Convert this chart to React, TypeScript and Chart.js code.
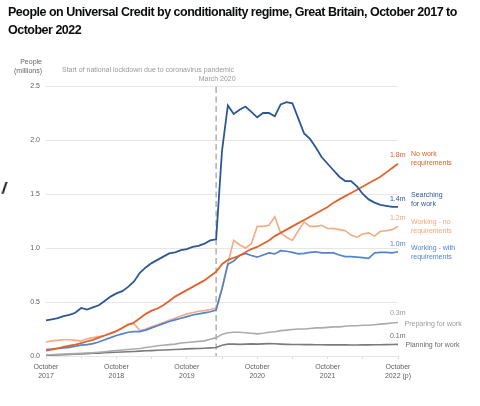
import React, { useEffect, useRef } from "react";
import { Chart, registerables } from "chart.js";

Chart.register(...registerables);

const FONT = '"Liberation Sans", Arial, Helvetica, sans-serif';

const months = [
  "Oct 2017", "Nov 2017", "Dec 2017", "Jan 2018", "Feb 2018", "Mar 2018", "Apr 2018", "May 2018", "Jun 2018", "Jul 2018", "Aug 2018", "Sep 2018",
  "Oct 2018", "Nov 2018", "Dec 2018", "Jan 2019", "Feb 2019", "Mar 2019", "Apr 2019", "May 2019", "Jun 2019", "Jul 2019", "Aug 2019", "Sep 2019",
  "Oct 2019", "Nov 2019", "Dec 2019", "Jan 2020", "Feb 2020", "Mar 2020", "Apr 2020", "May 2020", "Jun 2020", "Jul 2020", "Aug 2020", "Sep 2020",
  "Oct 2020", "Nov 2020", "Dec 2020", "Jan 2021", "Feb 2021", "Mar 2021", "Apr 2021", "May 2021", "Jun 2021", "Jul 2021", "Aug 2021", "Sep 2021",
  "Oct 2021", "Nov 2021", "Dec 2021", "Jan 2022", "Feb 2022", "Mar 2022", "Apr 2022", "May 2022", "Jun 2022", "Jul 2022", "Aug 2022", "Sep 2022",
  "Oct 2022",
];

// x-axis tick labels (shown at each October)
const tickLabels: string[][] = [
  ["October", "2017"],
  ["October", "2018"],
  ["October", "2019"],
  ["October", "2020"],
  ["October", "2021"],
  ["October", "2022 (p)"],
];

const yTicks = [0, 0.5, 1.0, 1.5, 2.0, 2.5];

const searching = [
  0.33, 0.34, 0.35, 0.37, 0.38, 0.40, 0.445, 0.43, 0.45, 0.47, 0.51, 0.55,
  0.58, 0.60, 0.64, 0.69, 0.77, 0.82, 0.86, 0.89, 0.92, 0.95, 0.96, 0.98,
  0.99, 1.01, 1.02, 1.04, 1.07, 1.08, 1.90, 2.32, 2.24, 2.28, 2.31, 2.26,
  2.21, 2.25, 2.25, 2.22, 2.33, 2.35, 2.34, 2.20, 2.06, 2.01, 1.93, 1.84,
  1.78, 1.72, 1.66, 1.62, 1.62, 1.57, 1.50, 1.45, 1.42, 1.40, 1.39, 1.38,
  1.38,
];

const noWork = [
  0.05, 0.06, 0.07, 0.085, 0.095, 0.105, 0.12, 0.135, 0.15, 0.17, 0.19, 0.21,
  0.23, 0.26, 0.29, 0.31, 0.35, 0.39, 0.42, 0.44, 0.47, 0.51, 0.55, 0.58,
  0.61, 0.64, 0.67, 0.70, 0.74, 0.78, 0.85, 0.89, 0.91, 0.93, 0.96, 0.99,
  1.01, 1.04, 1.07, 1.11, 1.14, 1.17, 1.20, 1.23, 1.26, 1.29, 1.32, 1.35,
  1.38, 1.42, 1.45, 1.48, 1.51, 1.54, 1.57, 1.60, 1.63, 1.66, 1.70, 1.74,
  1.78,
];

const workingNo = [
  0.13, 0.14, 0.145, 0.15, 0.15, 0.145, 0.14, 0.16, 0.17, 0.18, 0.19, 0.21,
  0.23, 0.26, 0.29, 0.30, 0.235, 0.25, 0.27, 0.29, 0.31, 0.33, 0.35, 0.37,
  0.39, 0.40, 0.415, 0.42, 0.43, 0.445, 0.63, 0.86, 1.07, 1.03, 1.00, 1.04,
  1.20, 1.20, 1.21, 1.29, 1.14, 1.10, 1.07, 1.16, 1.24, 1.20, 1.20, 1.21,
  1.18, 1.18, 1.17, 1.16, 1.12, 1.10, 1.13, 1.14, 1.11, 1.155, 1.16, 1.17,
  1.20,
];

const workingWith = [
  0.06, 0.065, 0.07, 0.075, 0.08, 0.09, 0.10, 0.105, 0.115, 0.13, 0.15, 0.17,
  0.19, 0.205, 0.22, 0.225, 0.225, 0.24, 0.26, 0.28, 0.30, 0.32, 0.335, 0.35,
  0.365, 0.38, 0.39, 0.40, 0.41, 0.425, 0.62, 0.85, 0.88, 0.93, 0.95, 0.93,
  0.915, 0.935, 0.955, 0.945, 0.975, 0.97, 0.96, 0.945, 0.95, 0.96, 0.965, 0.955,
  0.955, 0.955, 0.935, 0.92, 0.92, 0.915, 0.91, 0.905, 0.955, 0.96, 0.96, 0.955,
  0.965,
];

const preparing = [
  0.01, 0.012, 0.015, 0.018, 0.02, 0.022, 0.025, 0.028, 0.03, 0.035, 0.04, 0.045,
  0.05, 0.055, 0.06, 0.065, 0.07, 0.078, 0.085, 0.095, 0.10, 0.105, 0.11, 0.12,
  0.125, 0.13, 0.135, 0.14, 0.155, 0.17, 0.20, 0.215, 0.22, 0.22, 0.215, 0.21,
  0.205, 0.21, 0.22, 0.225, 0.235, 0.24, 0.245, 0.25, 0.25, 0.255, 0.26, 0.26,
  0.265, 0.27, 0.27, 0.275, 0.28, 0.28, 0.285, 0.285, 0.29, 0.295, 0.30, 0.305,
  0.31,
];

const planning = [
  0.005, 0.007, 0.01, 0.012, 0.015, 0.017, 0.02, 0.022, 0.025, 0.027, 0.03, 0.032,
  0.035, 0.037, 0.04, 0.042, 0.045, 0.048, 0.05, 0.053, 0.056, 0.058, 0.06, 0.063,
  0.066, 0.068, 0.07, 0.072, 0.075, 0.078, 0.10, 0.11, 0.11, 0.108, 0.11, 0.112,
  0.11, 0.112, 0.115, 0.113, 0.11, 0.108, 0.107, 0.106, 0.105, 0.105, 0.104, 0.104,
  0.103, 0.103, 0.103, 0.103, 0.102, 0.102, 0.103, 0.103, 0.104, 0.104, 0.105, 0.106,
  0.108,
];

const endValueLabels = ["1.4m", "1.8m", "1.0m", "1.2m", "0.3m", "0.1m"];
const seriesNames = [
  ["Searching", "for work"],
  ["No work", "requirements"],
  ["Working - with", "requirements"],
  ["Working - no", "requirements"],
  ["Preparing for work"],
  ["Planning for work"],
];
const lockdownMonth = "Mar 2020";
const lockdownText = ["Start of national lockdown due to coronavirus pandemic", "March 2020"];
const yAxisTitle = ["People", "(millions)"];

// styling (kept separate from data)
const COLORS = ["#2c5797", "#e2622b", "#5283d0", "#f2ab82", "#ababab", "#7b7b7b"];
const TEXT_COLORS = ["#2c5797", "#e2622b", "#5283d0", "#f0a67c", "#9a9a9a", "#6a6a6a"];
const WIDTHS = [1.8, 1.8, 1.7, 1.6, 1.6, 1.6];
// offsets relative to each series' end point
const LABEL_OFFSETS = [
  { vdy: -7.7, ndx: 13, ndy: -12 },
  { vdy: -9, ndx: 13, ndy: -9.5 },
  { vdy: -7.5, ndx: 13, ndy: -4.1 },
  { vdy: -8.7, ndx: 13, ndy: -4.7 },
  { vdy: -9.8, ndx: 6.5, ndy: 1.8 },
  { vdy: -8.1, ndx: 7.5, ndy: 0.9 },
];

export default function App() {
  const ref = useRef<HTMLCanvasElement>(null);

  useEffect(() => {
    const seriesData = [searching, noWork, workingWith, workingNo, preparing, planning];

    const annotPlugin = {
      id: "annot",
      beforeDatasetsDraw(chart: any) {
        const { ctx, scales, chartArea } = chart;
        const px = scales.x.getPixelForValue(months.indexOf(lockdownMonth));
        ctx.save();
        ctx.strokeStyle = "#b0b0b0";
        ctx.lineWidth = 1.5;
        ctx.setLineDash([6, 3.5]);
        ctx.beginPath();
        ctx.moveTo(px, chartArea.top + 1);
        ctx.lineTo(px, chartArea.bottom);
        ctx.stroke();
        ctx.restore();
      },
      afterDraw(chart: any) {
        const { ctx, scales, chartArea } = chart;
        const x = scales.x;
        const y = scales.y;
        ctx.save();
        ctx.font = `7px ${FONT}`;
        ctx.textBaseline = "middle";

        // y-axis title
        ctx.fillStyle = "#666";
        ctx.textAlign = "right";
        ctx.fillText(yAxisTitle[0], chartArea.left - 4, 62);
        ctx.fillText(yAxisTitle[1], chartArea.left - 4, 71);

        // lockdown annotation
        const px = x.getPixelForValue(months.indexOf(lockdownMonth));
        ctx.fillStyle = "#999";
        ctx.textAlign = "left";
        ctx.fillText(lockdownText[0], 62, 70);
        ctx.textAlign = "right";
        ctx.fillText(lockdownText[1], px + 19.5, 79);

        // end labels
        const lastIdx = months.length - 1;
        const xe = x.getPixelForValue(lastIdx);
        seriesData.forEach((d, i) => {
          const ye = y.getPixelForValue(d[lastIdx]);
          const o = LABEL_OFFSETS[i];
          ctx.fillStyle = TEXT_COLORS[i];
          ctx.textAlign = "right";
          ctx.fillText(endValueLabels[i], xe + 7.5, ye + o.vdy);
          ctx.textAlign = "left";
          seriesNames[i].forEach((line, k) => {
            ctx.fillText(line, xe + o.ndx, ye + o.ndy + k * 9.2);
          });
        });
        ctx.restore();
      },
    };

    const chart = new Chart(ref.current as HTMLCanvasElement, {
      type: "line",
      data: {
        labels: months,
        datasets: seriesData.map((d, i) => ({
          data: d,
          borderColor: COLORS[i],
          backgroundColor: COLORS[i],
          borderWidth: WIDTHS[i],
          pointRadius: 0,
          tension: 0,
          fill: false,
        })),
      },
      options: {
        responsive: false,
        animation: false,
        events: [],
        layout: { padding: { left: 0, right: 82, top: 86, bottom: 0 } },
        plugins: {
          legend: { display: false },
          tooltip: { enabled: false },
          title: { display: false },
        },
        scales: {
          x: {
            type: "category",
            offset: false,
            border: { display: false },
            grid: {
              drawOnChartArea: false,
              drawTicks: true,
              tickLength: 3,
              color: "#dcdcdc",
              lineWidth: 1,
            },
            ticks: {
              autoSkip: false,
              maxRotation: 0,
              minRotation: 0,
              padding: 3,
              color: "#5f5f5f",
              font: { size: 7, family: FONT, lineHeight: 1.35 },
              callback: (_v: any, i: number) =>
                i % 12 === 0 ? tickLabels[i / 12] : i % 6 === 0 ? "" : null,
            },
            afterFit: (s: any) => {
              s.height = 50;
            },
          },
          y: {
            min: yTicks[0],
            max: yTicks[yTicks.length - 1],
            border: { display: false },
            grid: { color: "#e6e6e6", drawTicks: false, lineWidth: 1 },
            afterBuildTicks: (s: any) => {
              s.ticks = yTicks.map((v) => ({ value: v }));
            },
            ticks: {
              padding: 6,
              color: "#5f5f5f",
              font: { size: 7, family: FONT },
              callback: (v: any) => Number(v).toFixed(1),
            },
            afterFit: (s: any) => {
              s.width = 46;
            },
          },
        },
      },
      plugins: [annotPlugin],
    } as any);

    return () => chart.destroy();
  }, []);

  return (
    <div
      style={{
        position: "absolute",
        left: 0,
        top: 0,
        width: 480,
        height: 406,
        background: "#fff",
        overflow: "hidden",
        fontFamily: FONT,
      }}
    >
      <canvas
        ref={ref}
        width={480}
        height={406}
        style={{ position: "absolute", left: 0, top: 0, width: 480, height: 406 }}
      />
      <div
        style={{
          position: "absolute",
          left: 8,
          top: 3,
          fontSize: 12.5,
          fontWeight: 700,
          lineHeight: "18px",
          letterSpacing: -0.5,
          color: "#0b0c0c",
          whiteSpace: "nowrap",
        }}
      >
        People on Universal Credit by conditionality regime, Great Britain, October 2017 to
        <br />
        October 2022
      </div>
      <div
        style={{
          position: "absolute",
          left: 2,
          top: 179,
          fontSize: 17,
          fontWeight: 700,
          color: "#111",
          transform: "skewX(-8deg)",
        }}
      >
        /
      </div>
    </div>
  );
}
